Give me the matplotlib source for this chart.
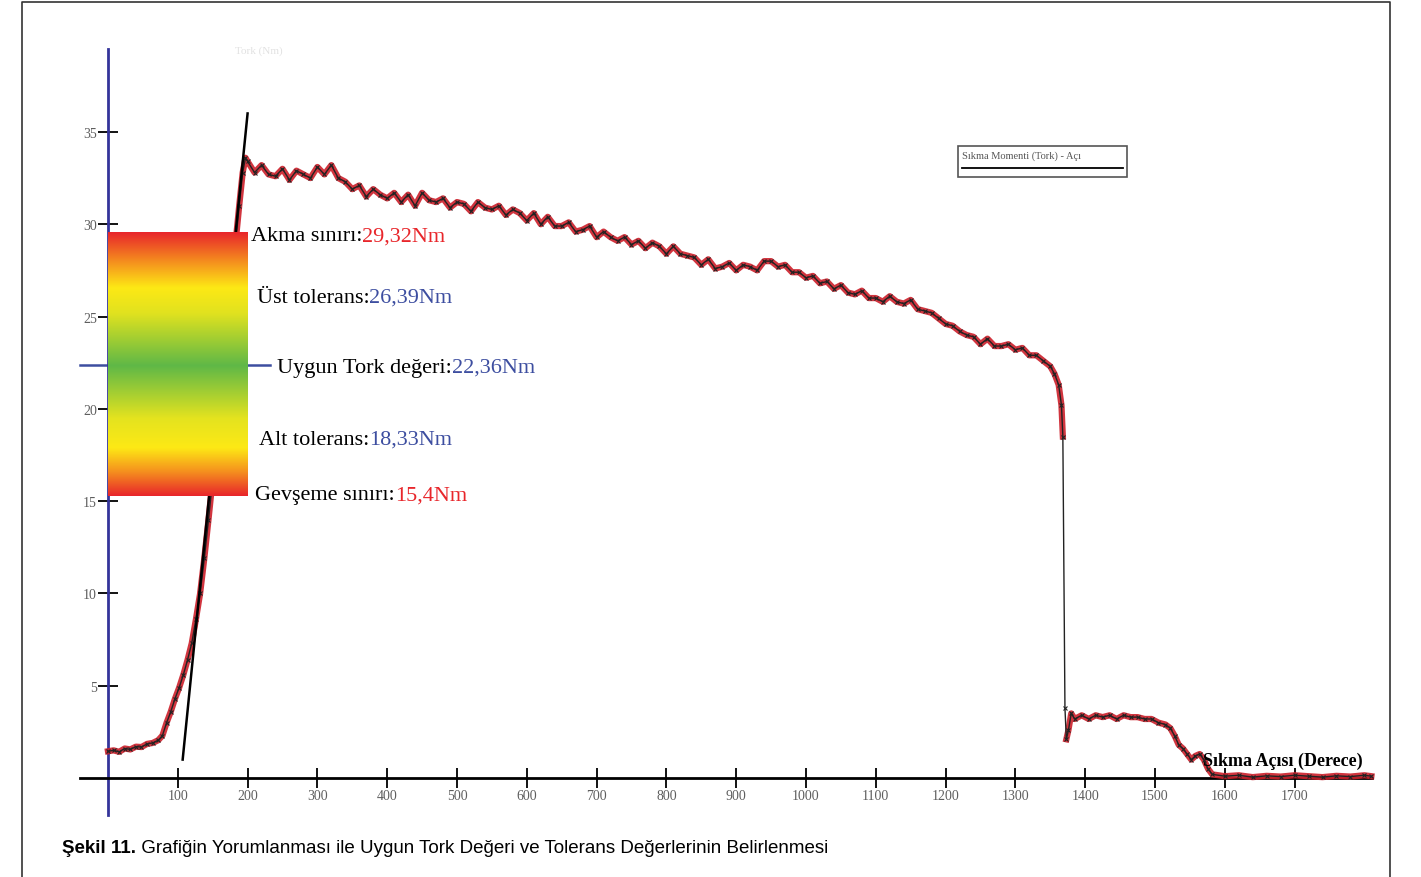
import numpy as np
import matplotlib
matplotlib.use("Agg")
import matplotlib.pyplot as plt
from matplotlib.colors import LinearSegmentedColormap
from matplotlib.patches import Rectangle
from matplotlib.lines import Line2D

# torque (Nm) vs tightening angle (degree)
angle = [0, 8, 16, 24, 32, 40, 48, 56, 64, 72, 78, 84, 90, 96, 102, 108, 114, 120, 126,
         132, 138, 144, 150, 158, 166, 174, 182, 188, 193, 197,
         200, 210, 220, 230, 240, 250, 260, 270, 280, 290,
         300, 310, 320, 330, 340, 350, 360, 370, 380, 390,
         400, 410, 420, 430, 440, 450, 460, 470, 480, 490,
         500, 510, 520, 530, 540, 550, 560, 570, 580, 590,
         600, 610, 620, 630, 640, 650, 660, 670, 680, 690,
         700, 710, 720, 730, 740, 750, 760, 770, 780, 790,
         800, 810, 820, 830, 840, 850, 860, 870, 880, 890,
         900, 910, 920, 930, 940, 950, 960, 970, 980, 990,
         1000, 1010, 1020, 1030, 1040, 1050, 1060, 1070, 1080, 1090,
         1100, 1110, 1120, 1130, 1140, 1150, 1160, 1170, 1180, 1190,
         1200, 1210, 1220, 1230, 1240, 1250, 1260, 1270, 1280, 1290,
         1300, 1310, 1320, 1330, 1340, 1350, 1356, 1362, 1366, 1368,
         1371, 1373, 1376, 1380, 1385, 1395, 1405, 1415, 1425, 1435, 1445, 1455, 1465, 1475,
         1485, 1495, 1505, 1515, 1522, 1528, 1534, 1540, 1546, 1552, 1558, 1564, 1570, 1576,
         1582, 1600, 1620, 1640, 1660, 1680, 1700, 1720, 1740, 1760, 1780, 1800, 1810]
torque = [1.45, 1.5, 1.42, 1.6, 1.55, 1.7, 1.68, 1.85, 1.9, 2.05, 2.3, 3.0, 3.6, 4.3, 4.9, 5.6, 6.4, 7.3, 8.6,
          10.0, 11.9, 14.0, 16.2, 19.5, 22.6, 25.6, 28.7, 31.0, 32.8, 33.6,
          33.4, 32.8, 33.2, 32.7, 32.6, 33.0, 32.4, 32.9, 32.7, 32.5,
          33.1, 32.7, 33.2, 32.5, 32.3, 31.9, 32.1, 31.5, 31.9, 31.6,
          31.4, 31.7, 31.2, 31.6, 31.0, 31.7, 31.3, 31.2, 31.4, 30.9,
          31.2, 31.1, 30.7, 31.2, 30.9, 30.8, 31.0, 30.5, 30.8, 30.6,
          30.2, 30.6, 30.0, 30.4, 29.9, 29.9, 30.1, 29.6, 29.7, 29.9,
          29.3, 29.6, 29.3, 29.1, 29.3, 28.9, 29.1, 28.7, 29.0, 28.8,
          28.4, 28.8, 28.4, 28.3, 28.2, 27.8, 28.1, 27.6, 27.7, 27.9,
          27.5, 27.8, 27.7, 27.5, 28.0, 28.0, 27.7, 27.8, 27.4, 27.4,
          27.1, 27.2, 26.8, 26.9, 26.5, 26.7, 26.3, 26.2, 26.4, 26.0,
          26.0, 25.8, 26.1, 25.8, 25.7, 25.9, 25.4, 25.3, 25.2, 24.9,
          24.6, 24.5, 24.2, 24.0, 23.9, 23.5, 23.8, 23.4, 23.4, 23.5,
          23.2, 23.3, 22.9, 22.9, 22.6, 22.3, 21.9, 21.3, 20.2, 18.5,
          3.8, 2.1, 2.6, 3.5, 3.2, 3.4, 3.2, 3.4, 3.3, 3.4, 3.2, 3.4, 3.3, 3.3,
          3.2, 3.2, 3.0, 2.9, 2.7, 2.3, 1.8, 1.6, 1.3, 1.0, 1.2, 1.3, 1.0, 0.5,
          0.2, 0.1, 0.15, 0.05, 0.12, 0.08, 0.15, 0.1, 0.05, 0.12, 0.08, 0.15, 0.1]

# tangent drawn on the elastic part
tangent_x = [107, 200]
tangent_y = [1.0, 36.0]

# limits written on the chart
limit_names = ["Akma sınırı:", "Üst tolerans:", "Uygun Tork değeri:", "Alt tolerans:", "Gevşeme sınırı:"]
limit_values = [29.32, 26.39, 22.36, 18.33, 15.4]
limit_texts = ["29,32Nm", "26,39Nm", "22,36Nm", "18,33Nm", "15,4Nm"]

xticks = list(range(100, 1800, 100))
yticks = [5, 10, 15, 20, 25, 30, 35]

RED = "#e8262b"
BLUE = "#3d4ea0"
serif = ["Liberation Serif", "DejaVu Serif"]

fig = plt.figure(figsize=(14.21, 8.78), dpi=100)
ax = fig.add_axes([0, 0, 1, 1])
ax.set_xlim(-154.7, 1881.1)
ax.set_ylim(-5.36, 42.2)
ax.patch.set_alpha(0)

for s in ["top", "right"]:
    ax.spines[s].set_visible(False)
ax.spines["left"].set_position(("data", 0))
ax.spines["left"].set_bounds(-2, 39.5)
ax.spines["left"].set_color("#34349a")
ax.spines["left"].set_linewidth(2)
ax.spines["bottom"].set_position(("data", 0))
ax.spines["bottom"].set_bounds(-40, 1811)
ax.spines["bottom"].set_linewidth(2)

ax.set_xticks(xticks)
ax.set_xticklabels([str(t) for t in xticks])
ax.set_yticks(yticks)
ax.set_yticklabels([str(t) for t in yticks])
ax.tick_params(direction="inout", length=14, width=1.3, color="black",
               labelcolor="#5e5e5e", labelsize=10, pad=1)
for lab in ax.get_xticklabels() + ax.get_yticklabels():
    lab.set_family(serif)

# measured curve: red trace with black points on top
a = np.array(angle, dtype=float)
t = np.array(torque, dtype=float)
slope = np.abs(np.diff(t) / np.diff(a))
t_red = t.copy()
t_red[1:][slope > 2] = np.nan
ax.plot(a, t_red, color="#cc1f2a", lw=4.5, alpha=0.9, zorder=3)
ax.plot(a, t, color="#222222", lw=1.0, marker="x", ms=3, mew=0.8, zorder=4)

ax.plot(tangent_x, tangent_y, color="black", lw=1.8, zorder=4)

# blue line at the suitable torque value
ax.plot([-40, 232], [limit_values[2], limit_values[2]], color=BLUE, lw=1.8, zorder=2)

# colour band
cmap = LinearSegmentedColormap.from_list("band", [
    (0.0, RED), (0.091, "#f5901e"), (0.182, "#fde915"), (0.294, "#e4e31f"),
    (0.494, "#5fb847"), (0.692, "#e0e21f"), (0.79, "#fde915"), (0.888, "#f5901e"), (1.0, RED)])
ax.imshow(np.linspace(0, 1, 256).reshape(-1, 1), cmap=cmap, aspect="auto", origin="lower",
          extent=(0, 200, 15.3, 29.6), zorder=5, interpolation="bilinear")

label_x = [205, 213, 242, 216, 211]
label_y = [29.38, 26.05, 22.25, 18.35, 15.35]
value_colors = [RED, BLUE, BLUE, BLUE, RED]
for x0, y0, name, txt, col in zip(label_x, label_y, limit_names, limit_texts, value_colors):
    t1 = ax.text(x0, y0, name, family=serif, fontsize=16, color="black",
                 va="center", ha="left", zorder=6)
    ax.annotate(txt, xy=(1, 0.5), xycoords=t1, va="center", ha="left",
                family=serif, fontsize=16, color=col, zorder=6)

# legend box
ax.add_patch(Rectangle((1218, 32.56), 242, 1.68, facecolor="white", edgecolor="#555555", lw=1.2, zorder=6))
ax.text(1223, 33.72, "Sıkma Momenti (Tork) - Açı", family=serif, fontsize=7.5,
        color="#555555", va="center", ha="left", zorder=7)
ax.plot([1224, 1454], [33.05, 33.05], color="black", lw=1.3, zorder=7)

ax.text(1569, 0.95, "Sıkma Açısı (Derece)", family=serif, fontsize=13, fontweight="bold",
        va="center", ha="left", zorder=7)
ax.text(182, 39.4, "Tork (Nm)", family=serif, fontsize=8, color="#e2e2e2", va="center")

# frame and caption
fig.add_artist(Line2D([0.0155, 0.0155, 0.978, 0.978], [0.0, 0.9966, 0.9966, 0.0],
                      transform=fig.transFigure, color="#333333", lw=1.2))
sans = ["Liberation Sans", "DejaVu Sans"]
c1 = fig.text(0.0436, 0.034, "Şekil 11.", family=sans, fontsize=13.5, fontweight="bold",
              va="center", ha="left")
ax.annotate(" Grafiğin Yorumlanması ile Uygun Tork Değeri ve Tolerans Değerlerinin Belirlenmesi",
            xy=(1, 0.5), xycoords=c1, va="center", ha="left", family=sans, fontsize=13.5)

fig.savefig("out.png", dpi=100)
